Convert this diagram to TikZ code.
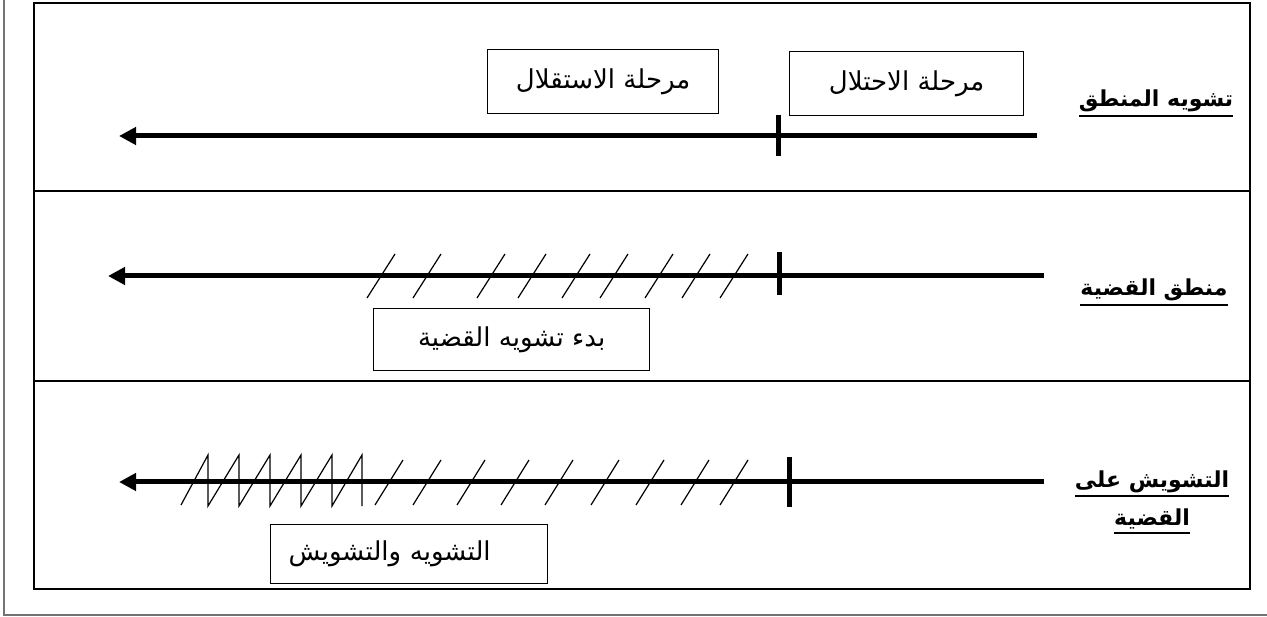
\documentclass[tikz,border=0pt]{standalone}
\usepackage{fontspec}
\usetikzlibrary{arrows.meta}
\TeXXeTstate=1
\newfontfamily\arabicfont[Script=Arabic]{DejaVu Sans}
\newcommand{\arline}[1]{\vtop{\hbox{#1}\kern3pt\hrule height 2pt}}

\begin{document}
\begin{tikzpicture}[x=1pt,y=-1pt]
		\begin{scope}
		
		\tikzstyle{stagebox}=[draw=black,
		line width=1.3pt,
		anchor=north west,
		inner xsep=0pt,
		inner ysep=0pt,
		font=\arabicfont\fontsize{26}{30}\selectfont
		]
		\tikzstyle{rowlabel}=[align=center,
		inner sep=0pt,
		font=\arabicfont\bfseries\fontsize{22}{38}\selectfont
		]
		\tikzstyle{timeline}=[line width=5pt,
		-{Triangle[length=17pt,width=17pt]}
		]
		\tikzstyle{tick}=[line width=5pt]
		\tikzstyle{hatch}=[line width=1.2pt]
		
		\useasboundingbox (0,0) rectangle (1267,617);
		
		% frame and table
		\draw[line width=1.6pt, black!55] (4,0) -- (4,615) -- (1267,615);
		\draw[line width=2pt] (34,3) rectangle (1250,589);
		\draw[line width=2pt] (34,191) -- (1250,191);
		\draw[line width=2pt] (34,381) -- (1250,381);
		
		% first row
		\coordinate (pa1) at (1037,136);
		\coordinate (pb1) at (119,136);
		\coordinate (pt1) at (778,115);
		\coordinate (pu1) at (778,156);
		
		\node[stagebox, minimum width=231pt, minimum height=64pt] (indep) at (487,49) {\beginR مرحلة الاستقلال\endR};
		\node[stagebox, minimum width=234pt, minimum height=64pt] (occup) at (789,51) {\beginR مرحلة الاحتلال\endR};
		\node[rowlabel] (lab1) at (1156,103) {\arline{\beginR تشويه المنطق\endR}};
		
		\draw[timeline] (pa1) -- (pb1);
		\draw[tick] (pt1) -- (pu1);
		
		% second row
		\coordinate (pa2) at (1044,276);
		\coordinate (pb2) at (108,276);
		\coordinate (pt2) at (779,252);
		\coordinate (pu2) at (779,295);
		
		\node[stagebox, minimum width=276pt, minimum height=62pt] (begin) at (373,308) {\beginR بدء تشويه القضية\endR};
		\node[rowlabel] (lab2) at (1154,292) {\arline{\beginR منطق القضية\endR}};
		
		\draw[timeline] (pa2) -- (pb2);
		\draw[tick] (pt2) -- (pu2);
		\foreach \hx in {367,413,477,518,562,600,645,682,720}
		\draw[hatch] (\hx,298) -- ++(28,-44);
		
		% third row
		\coordinate (pa3) at (1044,482);
		\coordinate (pb3) at (119,482);
		\coordinate (pt3) at (789,457);
		\coordinate (pu3) at (789,507);
		
		\node[stagebox, align=left, text width=241pt, inner xsep=18pt, minimum height=59pt] (mixed) at (270,524) {\beginR التشويه والتشويش\endR};
		\node[rowlabel] (lab3) at (1152,502) {\arline{\beginR التشويش على\endR}\\\arline{\beginR القضية\endR}};
		
		\draw[timeline] (pa3) -- (pb3);
		\draw[tick] (pt3) -- (pu3);
		\draw[hatch] (181,505) foreach \t in {208,239,270,301,332,362} { -- (\t,455) -- (\t,506) };
		\foreach \hx in {375,413,457,501,545,591,636,681,720}
		\draw[hatch] (\hx,505) -- ++(28,-45);
		
		\end{scope}
\end{tikzpicture}
\end{document}
